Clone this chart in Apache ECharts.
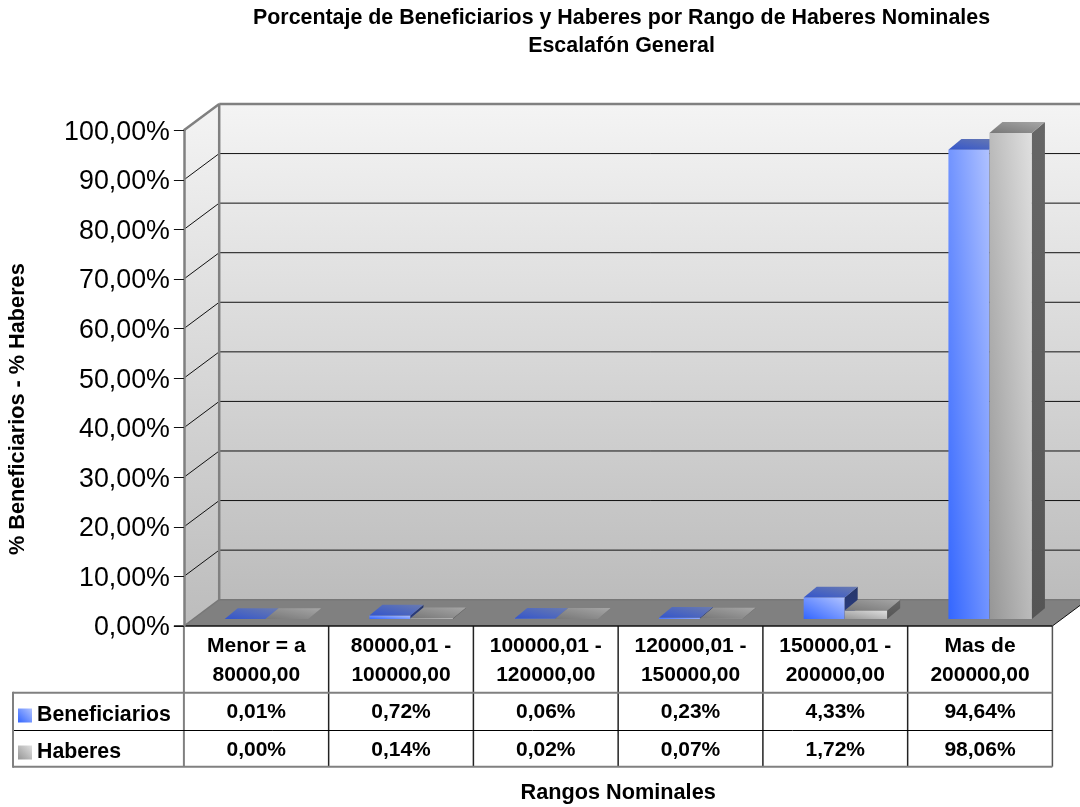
<!DOCTYPE html>
<html><head><meta charset="utf-8">
<style>html,body{margin:0;padding:0;background:#fff}#c{width:1080px;height:807px}</style>
<script src="https://cdn.jsdelivr.net/npm/echarts@6/dist/echarts.min.js"></script>
</head><body><div id="c"></div>
<script>
const titleLines = ['Porcentaje de Beneficiarios y Haberes por Rango de Haberes Nominales', 'Escalafón General'];
const yAxisTitle = '% Beneficiarios - % Haberes';
const xAxisTitle = 'Rangos Nominales';
const categories = ['Menor = a\n80000,00', '80000,01 -\n100000,00', '100000,01 -\n120000,00', '120000,01 -\n150000,00', '150000,01 -\n200000,00', 'Mas de\n200000,00'];
const beneficiarios = [0.01, 0.72, 0.06, 0.23, 4.33, 94.64];
const haberes = [0.00, 0.14, 0.02, 0.07, 1.72, 98.06];
const yTicks = [0, 10, 20, 30, 40, 50, 60, 70, 80, 90, 100];

const FONT = '"Liberation Sans", Arial, sans-serif';
const WALL = { dx: 35.3, dy: -26.3 };
const FRONT = { dx: 9.4, dy: -7 };
const BAR = { dx: 13, dy: -10.8, w1: 41, w2: 42.5 };
const ROWS = [692.7, 730.5, 766.7];
const LEG_X = 13;
const GRAY = '#808080';

function grad(x, y, x2, y2, a, b, global) {
  return { type: 'linear', x, y, x2, y2, global: !!global, colorStops: [{ offset: 0, color: a }, { offset: 1, color: b }] };
}
function boxGrad(x1, y1, x2, y2, a, b) {
  const w = x2 - x1, h = y2 - y1;
  const t = 2 * w * h / (w * w + h * h);
  return grad(x1, y2, x1 + t * h, y2 - t * w, a, b, true);
}
function poly(points, fill, z2) {
  return { type: 'polygon', shape: { points }, style: { fill }, z2: z2 || 0 };
}
function ln(x1, y1, x2, y2, stroke, lineWidth) {
  return { type: 'line', shape: { x1, y1, x2, y2 }, style: { stroke, lineWidth }, silent: true };
}
const wallGrad = grad(0, 0, 0, 1, '#f4f4f4', '#bcbcbc');

function renderBackdrop(params, api) {
  const cs = params.coordSys;
  const L = cs.x, R = cs.x + cs.width;
  const y0 = api.coord([0, 0])[1], y100 = api.coord([0, 100])[1];
  const c = [];
  c.push(poly([[L + WALL.dx, y100 + WALL.dy], [R + WALL.dx, y100 + WALL.dy], [R + WALL.dx, y0 + WALL.dy], [L + WALL.dx, y0 + WALL.dy]], wallGrad));
  c.push(poly([[L, y100], [L + WALL.dx, y100 + WALL.dy], [L + WALL.dx, y0 + WALL.dy], [L, y0]], wallGrad));
  c.push(poly([[L, y0], [R, y0], [R + WALL.dx, y0 + WALL.dy], [L + WALL.dx, y0 + WALL.dy]], GRAY));
  yTicks.slice(1, -1).forEach(t => {
    const y = api.coord([0, t])[1];
    c.push(ln(L, y, L + WALL.dx, y + WALL.dy, '#111', 1));
    c.push(ln(L + WALL.dx, y + WALL.dy, R + WALL.dx, y + WALL.dy, '#111', 1));
  });
  c.push(ln(L, y100, L + WALL.dx, y100 + WALL.dy, GRAY, 2.5));
  c.push(ln(L + WALL.dx, y100 + WALL.dy, R + WALL.dx, y100 + WALL.dy, GRAY, 2.5));
  c.push(ln(L + WALL.dx, y100 + WALL.dy, L + WALL.dx, y0 + WALL.dy, GRAY, 2.5));
  c.push(ln(L + WALL.dx, y0 + WALL.dy, R + WALL.dx, y0 + WALL.dy, '#777', 1.5));
  c.push(ln(L, y0, L + WALL.dx, y0 + WALL.dy, '#777', 1.5));
  c.push(ln(R, y0, R + WALL.dx, y0 + WALL.dy, '#111', 1));
  const step = cs.width / categories.length;
  for (let i = 1; i <= categories.length; i++) {
    c.push(ln(L + i * step, y0, L + i * step, ROWS[2], i === categories.length ? '#555' : '#222', 1.5));
  }
  c.push(ln(L, y0, L, ROWS[2], GRAY, 2));
  c.push(ln(LEG_X, ROWS[0], R, ROWS[0], GRAY, 2));
  c.push(ln(LEG_X, ROWS[1], R, ROWS[1], '#000', 1));
  c.push(ln(LEG_X, ROWS[2], R, ROWS[2], GRAY, 2));
  c.push(ln(LEG_X, ROWS[0] - 1, LEG_X, ROWS[2] + 1, GRAY, 2));
  c.push(ln(L - 10, y0, R, y0, '#111', 1.5));
  return { type: 'group', children: c };
}

function barRenderer(values, pal, second, rowCenter) {
  return function (params, api) {
    const idx = api.value(0), v = api.value(1);
    const cx = api.coord([idx, 0])[0] + FRONT.dx;
    const yb = api.coord([idx, 0])[1] + FRONT.dy;
    const yt = api.coord([idx, v])[1] + FRONT.dy;
    const x1 = second ? cx : cx - BAR.w1;
    const x2 = second ? cx + BAR.w2 : cx;
    const d = BAR;
    const c = [];
    if (yb - yt > 0.01) {
      c.push(poly([[x1, yt], [x2, yt], [x2, yb], [x1, yb]], boxGrad(x1, yt, x2, yb, pal.f0, pal.f1)));
      c.push(poly([[x2, yt], [x2 + d.dx, yt + d.dy], [x2 + d.dx, yb + d.dy], [x2, yb]], grad(0, 1, 0, 0, pal.s0, pal.s1)));
    }
    c.push(poly([[x1, yt], [x2, yt], [x2 + d.dx, yt + d.dy], [x1 + d.dx, yt + d.dy]], boxGrad(x1, yt + d.dy, x2 + d.dx, yt, pal.t0, pal.t1)));
    c.push({
      type: 'text',
      style: {
        text: values[idx].toFixed(2).replace('.', ',') + '%',
        x: api.coord([idx, 0])[0], y: rowCenter,
        align: 'center', verticalAlign: 'middle',
        font: 'bold 21px ' + FONT, fill: '#000'
      }
    });
    return { type: 'group', children: c };
  };
}

const bluePal = { f0: '#3366ff', f1: '#b0c2ff', s0: '#2a3c85', s1: '#263668', t0: '#3355cc', t1: '#6a7bb0' };
const grayPal = { f0: '#969696', f1: '#e0e0e0', s0: '#555555', s1: '#666666', t0: '#777777', t1: '#a6a6a6' };

const option = {
  animation: false,
  backgroundColor: '#fff',
  title: [
    { text: titleLines[0], left: 616.5, top: 3, textAlign: 'center', textStyle: { fontFamily: FONT, fontSize: 21.4, fontWeight: 'bold', color: '#000' } },
    { text: titleLines[1], left: 616.5, top: 31, textAlign: 'center', textStyle: { fontFamily: FONT, fontSize: 21.4, fontWeight: 'bold', color: '#000' } }
  ],
  legend: {
    orient: 'vertical', left: 13, top: 700, itemWidth: 14, itemHeight: 14, itemGap: 16,
    selectedMode: false,
    textStyle: { fontFamily: FONT, fontSize: 21.3, fontWeight: 'bold', color: '#000' },
    data: [
      { name: 'Beneficiarios', icon: 'rect', itemStyle: { color: grad(0, 1, 1, 0, '#3366ff', '#b0c2ff') } },
      { name: 'Haberes', icon: 'rect', itemStyle: { color: grad(0, 1, 1, 0, '#969696', '#e0e0e0') } }
    ]
  },
  grid: { left: 183.9, top: 130.3, width: 868.5, height: 495.7, outerBoundsMode: 'none' },
  xAxis: {
    type: 'category', data: categories,
    axisLine: { show: false }, axisTick: { show: false },
    axisLabel: { fontFamily: FONT, fontSize: 21, fontWeight: 'bold', color: '#000', lineHeight: 29, margin: 6, interval: 0 },
    name: xAxisTitle, nameLocation: 'middle', nameGap: 156,
    nameTextStyle: { fontFamily: FONT, fontSize: 21.7, fontWeight: 'bold', color: '#000' }
  },
  yAxis: {
    type: 'value', min: 0, max: 100, interval: 10, z: 5,
    axisLine: { show: true, lineStyle: { color: GRAY, width: 2.5 } },
    axisTick: { show: true, length: 10, lineStyle: { color: '#111', width: 1 } },
    splitLine: { show: false },
    axisLabel: {
      margin: 14,
      formatter: v => '{t|' + v.toFixed(2).replace('.', ',') + '%}',
      rich: { t: { fontFamily: FONT, fontSize: 26.8, color: '#000', padding: [4, 0, 0, 0] } }
    },
    name: yAxisTitle, nameLocation: 'middle', nameGap: 155, nameRotate: 90,
    nameTextStyle: { fontFamily: FONT, fontSize: 21.7, fontWeight: 'bold', color: '#000', padding: [0, 62, 0, 0] }
  },
  series: [
    { type: 'custom', name: 'backdrop', silent: true, z: 1, renderItem: renderBackdrop, data: [[0, 0]], clip: false, legendHoverLink: false },
    { type: 'custom', name: 'Beneficiarios', z: 2, renderItem: barRenderer(beneficiarios, bluePal, false, 712.5), data: beneficiarios.map((v, i) => [i, v]), encode: { x: 0, y: 1 }, clip: false },
    { type: 'custom', name: 'Haberes', z: 3, renderItem: barRenderer(haberes, grayPal, true, 750), data: haberes.map((v, i) => [i, v]), encode: { x: 0, y: 1 }, clip: false }
  ]
};
echarts.init(document.getElementById('c'), null, { renderer: 'canvas' }).setOption(option);
</script></body></html>
